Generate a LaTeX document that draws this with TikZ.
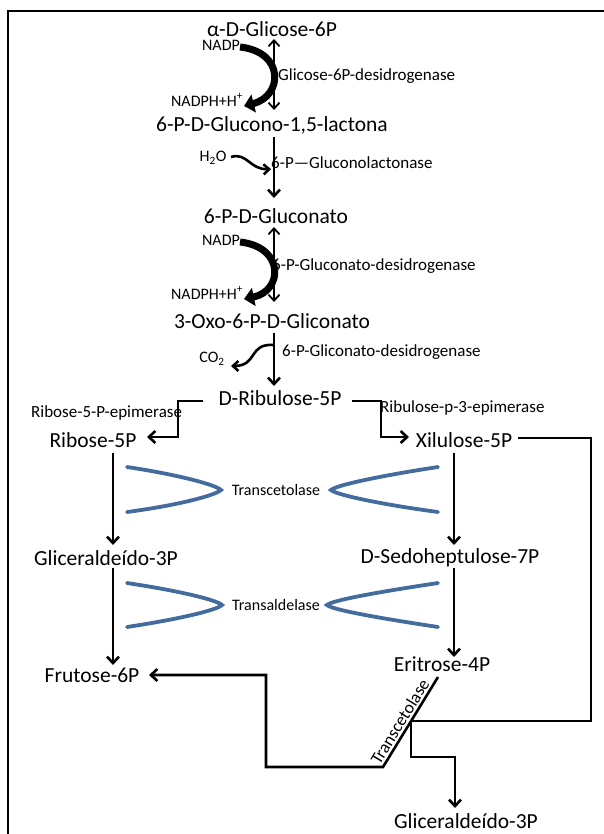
\documentclass[tikz,border=0pt]{standalone}
\usepackage{fontspec}
\setmainfont{Carlito}
\usetikzlibrary{arrows.meta}
\definecolor{chevblue}{RGB}{68,107,158}
\begin{document}
\begin{tikzpicture}[x=1pt,y=-1pt,
  main/.style={font=\fontsize{21.5}{24}\selectfont, inner sep=0pt},
  small/.style={font=\fontsize{16}{19}\selectfont, inner sep=0pt},
  enz/.style={font=\fontsize{17}{20}\selectfont, inner sep=0pt, anchor=west},
  tk/.style={font=\fontsize{16}{19}\selectfont, inner sep=0pt},
  flow/.style={line width=2.6pt, -{Straight Barb[length=6.5pt,width=12pt]}},
  twoway/.style={line width=1.8pt, {Straight Barb[length=6pt,width=11pt]}-{Straight Barb[length=6pt,width=11pt]}},
  cof/.style={line width=7pt, -{Triangle[length=10pt,width=18pt]}},
  side/.style={line width=2.6pt, -{Straight Barb[length=5.5pt,width=10pt]}},
  chev/.style={line width=3.8pt, draw=chevblue, line cap=round},
  plain/.style={line width=2.6pt}
]
\useasboundingbox (0,0) rectangle (603,834);
% frame
\draw[line width=2.8pt] (8,840) -- (8,11) -- (610,11);

% main metabolites
\node[main] (g6p)  at (272,29)  {α-D-Glicose-6P};
\node[main] (lac)  at (272,125) {6-P-D-Glucono-1,5-lactona};
\node[main] (glu)  at (276,216) {6-P-D-Gluconato};
\node[main] (oxo)  at (272,321) {3-Oxo-6-P-D-Gliconato};
\node[main] (rib)  at (280,398) {D-Ribulose-5P};
\node[main] (r5p)  at (93,440)  {Ribose-5P};
\node[main] (x5p)  at (464,440) {Xilulose-5P};
\node[main] (gap1) at (106,558) {Gliceraldeído-3P};
\node[main] (s7p)  at (450,558) {D-Sedoheptulose-7P};
\node[main] (f6p)  at (92,675)  {Frutose-6P};
\node[main] (e4p)  at (442,664) {Eritrose-4P};
\node[main] (gap2) at (466,821) {Gliceraldeído-3P};

% cofactors
\node[small] (nadp1)  at (221,45)  {NADP};
\node[small] (nadph1) at (207,100) {NADPH+H\textsuperscript{+}};
\node[small] (h2o)    at (213,158) {H\textsubscript{2}O};
\node[small] (nadp2)  at (221,240) {NADP};
\node[small] (nadph2) at (207,293) {NADPH+H\textsuperscript{+}};
\node[small] (co2)    at (212,359) {CO\textsubscript{2}};

% enzymes
\node[enz] (e1) at (278,76)  {Glicose-6P-desidrogenase};
\node[enz] (e2) at (271,163) {6-P—Gluconolactonase};
\node[enz] (e3) at (272,266) {6-P-Gluconato-desidrogenase};
\node[enz] (e4) at (282,352) {6-P-Gliconato-desidrogenase};
\node[enz] (e5) at (31,413)  {Ribose-5-P-epimerase};
\node[enz] (e6) at (380,408) {Ribulose-p-3-epimerase};
\node[tk] (tk1) at (276,490) {Transcetolase};
\node[tk] (ta1) at (276,605) {Transaldelase};

% coordinates of connector ends and bends
\coordinate (a1t) at (274,39);  \coordinate (a1b) at (274,110);
\coordinate (a2t) at (274,137); \coordinate (a2b) at (274,198);
\coordinate (a3t) at (274,227); \coordinate (a3b) at (274,302);
\coordinate (a4t) at (274,333); \coordinate (a4b) at (274,386);
\coordinate (c1s) at (240,47);  \coordinate (c1e) at (244,106);
\coordinate (c2s) at (240,242); \coordinate (c2e) at (244,299);
\coordinate (hs) at (231,157);  \coordinate (he) at (271,169);
\coordinate (cs) at (274,345);  \coordinate (ce) at (231,366);
\coordinate (lb1) at (203,401); \coordinate (lb2) at (178,401); \coordinate (lb3) at (178,437); \coordinate (lb4) at (147,437);
\coordinate (rb1) at (352,401); \coordinate (rb2) at (381,401); \coordinate (rb3) at (381,437); \coordinate (rb4) at (409,437);
\coordinate (xr1) at (518,438); \coordinate (xr2) at (591,438); \coordinate (xr3) at (591,721); \coordinate (jn) at (411,721);
\coordinate (v1t) at (113,453); \coordinate (v1b) at (113,545);
\coordinate (v2t) at (454,453); \coordinate (v2b) at (454,545);
\coordinate (v3t) at (113,568); \coordinate (v3b) at (113,665);
\coordinate (v4t) at (454,568); \coordinate (v4b) at (454,657);
\coordinate (dt) at (438,677);  \coordinate (db) at (383,767);
\coordinate (fb1) at (266,767); \coordinate (fb2) at (266,675); \coordinate (fb3) at (149,675);
\coordinate (gb1) at (411,757); \coordinate (gb2) at (455,757); \coordinate (gb3) at (455,808);

% oxidative branch
\draw[twoway] (a1t) -- (a1b);
\draw[cof] (c1s) .. controls (285,52) and (283,96) .. (c1e);
\draw[flow] (a2t) -- (a2b);
\draw[side] (hs) .. controls (247,152) and (250,170) .. (he);
\draw[twoway] (a3t) -- (a3b);
\draw[cof] (c2s) .. controls (285,247) and (283,291) .. (c2e);
\draw[flow] (a4t) -- (a4b);
\draw[side] (cs) .. controls (248,343) and (258,366) .. (ce);

% epimerases
\draw[flow] (lb1) -- (lb2) -- (lb3) -- (lb4);
\draw[flow] (rb1) -- (rb2) -- (rb3) -- (rb4);

% non-oxidative
\draw[flow] (v1t) -- (v1b);
\draw[flow] (v2t) -- (v2b);
\draw[flow] (v3t) -- (v3b);
\draw[flow] (v4t) -- (v4b);
\draw[plain] (xr1) -- (xr2) -- (xr3) -- (jn);
\draw[flow] (dt) -- (db) -- (fb1) -- (fb2) -- (fb3);
\draw[flow] (jn) -- (gb1) -- (gb2) -- (gb3);
\path (db) -- (dt) node[tk, font=\fontsize{17.5}{20}\selectfont, pos=0.45, sloped, above=3pt] (tk2) {Transcetolase};

% chevrons
\draw[chev] (127,467) .. controls (180,475) and (216,485) .. (221,490) .. controls (216,495) and (180,505) .. (127,512);
\draw[chev] (438,467) .. controls (385,475) and (336,485) .. (331,490) .. controls (336,495) and (385,505) .. (438,512);
\draw[chev] (127,583) .. controls (180,591) and (217,600) .. (222,605) .. controls (217,610) and (180,619) .. (127,627);
\draw[chev] (438,583) .. controls (385,591) and (332,600) .. (327,605) .. controls (332,610) and (385,619) .. (438,627);
\end{tikzpicture}
\end{document}
